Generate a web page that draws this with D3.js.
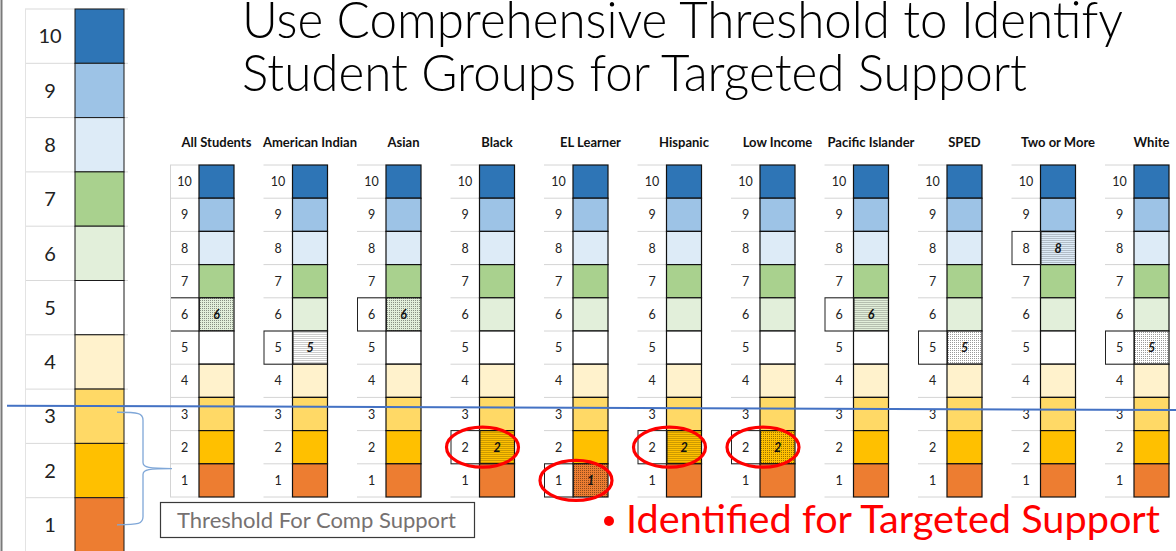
<!DOCTYPE html>
<html>
<head>
<meta charset="utf-8">
<script src="https://cdn.jsdelivr.net/npm/d3@7"></script>
<style>
  body { margin: 0; background: #fff; }
  svg { display: block; font-family: Lato, 'Open Sans', sans-serif; }
</style>
</head>
<body>
<div id="chart"></div>
<script>
// rating levels, top to bottom, and their fill colours
const levels = [10, 9, 8, 7, 6, 5, 4, 3, 2, 1];
const levelColors = ['#2e75b6', '#9dc3e6', '#ddebf7', '#a9d18e', '#e2efda',
  '#ffffff', '#fff2cc', '#ffd966', '#ffc000', '#ed7d31'];

// student groups and the rating each one got
const groups = ['All Students', 'American Indian', 'Asian', 'Black', 'EL Learner',
  'Hispanic', 'Low Income', 'Pacific Islander', 'SPED', 'Two or More', 'White'];
const groupScores = [6, 5, 6, 2, 1, 2, 2, 6, 5, 8, 5];

const compThreshold = 3;
const titleLines = ['Use Comprehensive Threshold to Identify', 'Student Groups for Targeted Support'];

const width = 1176;
const height = 551;

const svg = d3.select('#chart')
  .append('svg')
  .attr('width', width)
  .attr('height', height);

const color = d3.scaleOrdinal().domain(levels).range(levelColors);

// dotted fill used for a group's own rating
const defs = svg.append('defs');
levels.forEach((lv) => {
  const p = defs.append('pattern')
    .attr('id', `hl-${lv}`)
    .attr('width', 2)
    .attr('height', 2)
    .attr('patternUnits', 'userSpaceOnUse');
  p.append('rect').attr('width', 2).attr('height', 2).attr('fill', color(lv));
  p.append('rect').attr('width', 1).attr('height', 1).attr('fill', '#000').attr('opacity', 0.4);
});

// left edge of the slide
svg.append('line')
  .attr('x1', 1.5).attr('x2', 1.5)
  .attr('y1', 0).attr('y2', height)
  .attr('stroke', '#7a7a7a')
  .attr('stroke-width', 2);

// ---- big legend column on the left
const yBig = d3.scaleBand().domain(levels).range([9, 552]);
const big = svg.append('g').attr('class', 'big-scale');

big.selectAll('line.grid')
  .data(levels)
  .enter().append('line')
  .attr('class', 'grid')
  .attr('x1', 25).attr('x2', 128)
  .attr('y1', (d) => yBig(d)).attr('y2', (d) => yBig(d))
  .attr('stroke', '#d9d9d9');

big.append('line')
  .attr('x1', 25.5).attr('x2', 25.5)
  .attr('y1', 9).attr('y2', height)
  .attr('stroke', '#e3e3e3');

big.selectAll('rect')
  .data(levels)
  .enter().append('rect')
  .attr('x', 75)
  .attr('y', (d) => yBig(d))
  .attr('width', 49)
  .attr('height', yBig.bandwidth())
  .attr('fill', (d) => color(d))
  .attr('stroke', '#1a1a1a')
  .attr('stroke-width', 1);

big.selectAll('text')
  .data(levels)
  .enter().append('text')
  .attr('x', 50)
  .attr('y', (d) => yBig(d) + yBig.bandwidth() / 2)
  .attr('dy', '0.36em')
  .attr('text-anchor', 'middle')
  .attr('font-size', 20)
  .attr('fill', '#222')
  .text((d) => d);

// ---- title
svg.selectAll('text.title')
  .data(titleLines)
  .enter().append('text')
  .attr('class', 'title')
  .attr('x', 242)
  .attr('y', (d, i) => 38 + i * 53)
  .attr('font-size', 51)
  .attr('font-weight', 300)
  .attr('fill', '#000')
  .attr('textLength', (d, i) => (i === 0 ? 881 : 785))
  .attr('lengthAdjust', 'spacingAndGlyphs')
  .text((d) => d);

// ---- small columns, one per group
const xGroup = d3.scaleBand().domain(groups).range([170, 1198.5]);
const ySmall = d3.scaleBand().domain(levels).range([165, 497]);
const labelW = 29;
const boxW = 35;

const cols = svg.selectAll('g.group')
  .data(groups.map((g, i) => ({ name: g, score: groupScores[i] })))
  .enter().append('g')
  .attr('class', 'group')
  .attr('transform', (d) => `translate(${xGroup(d.name)},0)`);

cols.append('text')
  .attr('x', labelW + boxW / 2)
  .attr('y', 147)
  .attr('text-anchor', 'middle')
  .attr('font-size', 13)
  .attr('font-weight', 700)
  .attr('fill', '#111')
  .text((d) => d.name);

// cell gridlines
cols.each(function (d) {
  const col = d3.select(this);
  col.selectAll('line.grid')
    .data(levels.concat(['end']))
    .enter().append('line')
    .attr('class', 'grid')
    .attr('x1', 0).attr('x2', labelW)
    .attr('y1', (lv) => (lv === 'end' ? ySmall.range()[1] : ySmall(lv)))
    .attr('y2', (lv) => (lv === 'end' ? ySmall.range()[1] : ySmall(lv)))
    .attr('stroke', '#d4d4d4');

  col.selectAll('rect.cell')
    .data(levels)
    .enter().append('rect')
    .attr('class', 'cell')
    .attr('x', labelW)
    .attr('y', (lv) => ySmall(lv))
    .attr('width', boxW)
    .attr('height', ySmall.bandwidth())
    .attr('fill', (lv) => (lv === d.score ? `url(#hl-${lv})` : color(lv)))
    .attr('stroke', '#111')
    .attr('stroke-width', 1.2);

  col.selectAll('text.num')
    .data(levels)
    .enter().append('text')
    .attr('class', 'num')
    .attr('x', labelW / 2)
    .attr('y', (lv) => ySmall(lv) + ySmall.bandwidth() / 2)
    .attr('dy', '0.36em')
    .attr('text-anchor', 'middle')
    .attr('font-size', 12.5)
    .attr('fill', '#222')
    .text((lv) => lv);

  // outline the label cell of the group's rating
  col.append('rect')
    .attr('x', 0.5)
    .attr('y', ySmall(d.score))
    .attr('width', labelW)
    .attr('height', ySmall.bandwidth())
    .attr('fill', 'none')
    .attr('stroke', '#222')
    .attr('stroke-width', 1);

  col.append('text')
    .attr('x', labelW + boxW / 2)
    .attr('y', ySmall(d.score) + ySmall.bandwidth() / 2)
    .attr('dy', '0.36em')
    .attr('text-anchor', 'middle')
    .attr('font-size', 12.5)
    .attr('font-weight', 700)
    .attr('font-style', 'italic')
    .attr('fill', '#111')
    .text(d.score);
});

// faint sheet border left of the first group
svg.append('line')
  .attr('x1', xGroup(groups[0]) + 0.5).attr('x2', xGroup(groups[0]) + 0.5)
  .attr('y1', ySmall.range()[0]).attr('y2', ySmall.range()[1])
  .attr('stroke', '#d4d4d4');

// ---- comprehensive threshold line
svg.append('line')
  .attr('x1', 7)
  .attr('x2', width)
  .attr('y1', ySmall(compThreshold) + ySmall.bandwidth() * 0.25)
  .attr('y2', ySmall(compThreshold) + ySmall.bandwidth() * 0.38)
  .attr('stroke', '#4472c4')
  .attr('stroke-width', 2);

// red rings round the groups below the threshold
const flagged = groups
  .map((g, i) => ({ name: g, score: groupScores[i] }))
  .filter((d) => d.score < compThreshold);

svg.selectAll('ellipse.flag')
  .data(flagged)
  .enter().append('ellipse')
  .attr('class', 'flag')
  .attr('cx', (d) => xGroup(d.name) + (labelW + boxW) / 2)
  .attr('cy', (d) => ySmall(d.score) + ySmall.bandwidth() / 2)
  .attr('rx', 36)
  .attr('ry', 20)
  .attr('fill', 'none')
  .attr('stroke', '#ff0000')
  .attr('stroke-width', 3.2);

// ---- brace pointing from levels 1-3 to the box label
const braceTop = yBig(compThreshold) + yBig.bandwidth() / 2 - 4;
const braceBot = yBig(1) + yBig.bandwidth() / 2;
const braceMid = (braceTop + braceBot) / 2;
const bx0 = 117;
const bx1 = 143;
const bTip = xGroup(groups[0]) + 2;
svg.append('path')
  .attr('d', `M${bx0},${braceTop} C${bx1 - 4},${braceTop} ${bx1},${braceTop + 1} ${bx1},${braceTop + 8}
    L${bx1},${braceMid - 6} C${bx1},${braceMid - 1} ${bx1 + 6},${braceMid} ${bTip},${braceMid}
    M${bTip},${braceMid} C${bx1 + 6},${braceMid} ${bx1},${braceMid + 1} ${bx1},${braceMid + 6}
    L${bx1},${braceBot - 8} C${bx1},${braceBot - 1} ${bx1 - 4},${braceBot} ${bx0},${braceBot}`)
  .attr('fill', 'none')
  .attr('stroke', '#7fa7d8')
  .attr('stroke-width', 1.3);

// ---- "Threshold For Comp Support" box
svg.append('rect')
  .attr('x', 160.5)
  .attr('y', 502.5)
  .attr('width', 314)
  .attr('height', 35)
  .attr('fill', '#fff')
  .attr('stroke', '#3a3a3a')
  .attr('stroke-width', 1.2);

svg.append('text')
  .attr('x', 177)
  .attr('y', 528)
  .attr('font-size', 21)
  .attr('fill', '#767171')
  .attr('textLength', 279)
  .attr('lengthAdjust', 'spacingAndGlyphs')
  .text('Threshold For Comp Support');

// ---- red note
svg.append('circle')
  .attr('cx', 609)
  .attr('cy', 521)
  .attr('r', 5)
  .attr('fill', '#ff0000');

svg.append('text')
  .attr('x', 626)
  .attr('y', 533)
  .attr('font-size', 38)
  .attr('fill', '#ff0000')
  .attr('textLength', 534)
  .attr('lengthAdjust', 'spacingAndGlyphs')
  .text('Identified for Targeted Support');
</script>
</body>
</html>
